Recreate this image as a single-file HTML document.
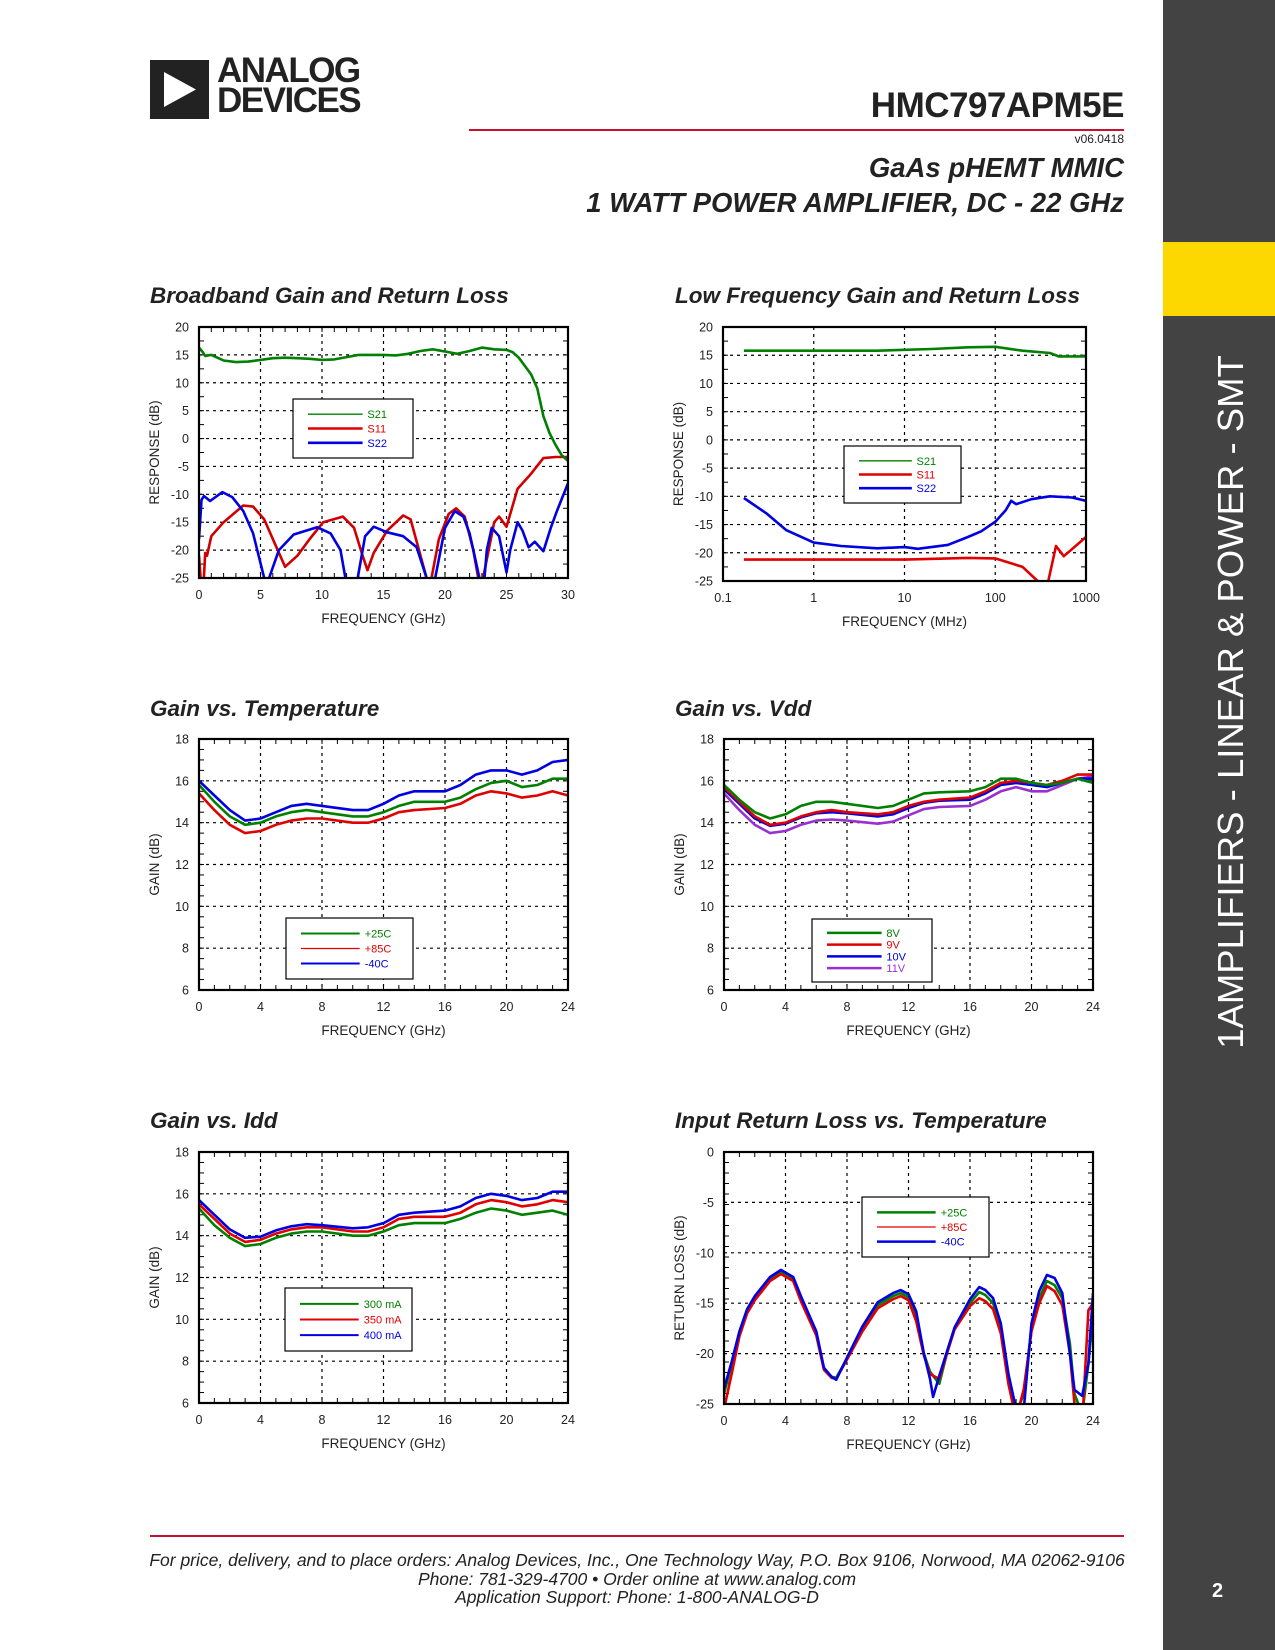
<!DOCTYPE html>
<html><head><meta charset="utf-8"><style>
body{margin:0;width:1275px;height:1650px;position:relative;background:#fff;font-family:"Liberation Sans",sans-serif;overflow:hidden}
.abs{position:absolute}
.ct{position:absolute;font-weight:bold;font-style:italic;font-size:22.5px;color:#222}
</style></head><body>
<div class="abs" style="left:150px;top:60px;width:232px;height:60px">
 <div style="position:absolute;left:0;top:0;width:59px;height:59px;background:#222"><svg width="59" height="59"><polygon points="14,12 14,47 46,29.5" fill="#fff"/></svg></div>
 <div style="position:absolute;left:67px;top:-4px;font-size:35px;font-weight:bold;line-height:30px;letter-spacing:-1.5px;color:#222">ANALOG<br>DEVICES</div>
</div>
<div class="abs" style="right:151px;top:86px;font-size:35px;font-weight:bold;color:#222;letter-spacing:-0.5px">HMC797APM5E</div>
<div class="abs" style="left:469px;top:129px;width:655px;height:2px;background:#c8102e"></div>
<div class="abs" style="right:151px;top:132px;font-size:12px;color:#222">v06.0418</div>
<div class="abs" style="right:151px;top:152px;font-size:27.5px;font-weight:bold;font-style:italic;color:#222">GaAs pHEMT MMIC</div>
<div class="abs" style="right:151px;top:187px;font-size:27.5px;font-weight:bold;font-style:italic;color:#222">1 WATT POWER AMPLIFIER, DC - 22 GHz</div>
<div class="abs" style="left:1163px;top:0;width:112px;height:1650px;background:#434343"></div>
<div class="abs" style="left:1163px;top:242px;width:112px;height:74px;background:#fdd800"></div>
<div class="abs" style="left:1231px;top:702px;width:0;height:0"><div style="position:absolute;transform:translate(-50%,-50%) rotate(-90deg);white-space:nowrap;color:#fff;font-size:36.5px;left:0;top:0">1AMPLIFIERS - LINEAR &amp; POWER - SMT</div></div>
<div class="abs" style="left:1212px;top:1580px;color:#fff;font-size:20px;font-weight:bold">2</div>

<div class="ct" style="left:150px;top:283px">Broadband Gain and Return Loss</div>
<div class="ct" style="left:675px;top:283px">Low Frequency Gain and Return Loss</div>
<div class="ct" style="left:150px;top:696px">Gain vs. Temperature</div>
<div class="ct" style="left:675px;top:696px">Gain vs. Vdd</div>
<div class="ct" style="left:150px;top:1108px">Gain vs. Idd</div>
<div class="ct" style="left:675px;top:1108px">Input Return Loss vs. Temperature</div>

<svg id="charts" width="1275" height="1650" style="position:absolute;left:0;top:0" font-family="Liberation Sans, sans-serif"></svg>

<div class="abs" style="left:150px;top:1535px;width:974px;height:1.5px;background:#c8102e"></div>
<div class="abs" style="left:130px;width:1014px;top:1551px;text-align:center;font-style:italic;font-size:17.5px;line-height:18.5px;color:#222">For price, delivery, and to place orders: Analog Devices, Inc., One Technology Way, P.O. Box 9106, Norwood, MA 02062-9106<br>Phone: 781-329-4700 • Order online at www.analog.com<br>Application Support: Phone: 1-800-ANALOG-D</div>

<script>
// ---- Chart 1: Broadband (GHz) ----
const c1S21x=[0,0.3,0.5,1,1.5,2,3,4,5,6,7,8,9,10,11,12,13,14,15,16,17,18,19,20,21,22,23,24,25,25.5,26,27,27.5,28,28.5,29,29.5,30];
const c1S21y=[16.3,15.5,14.8,15,14.5,14,13.7,13.8,14.1,14.4,14.5,14.4,14.3,14.1,14.2,14.6,15,15,15,14.9,15.2,15.7,16,15.6,15.2,15.7,16.3,16,15.9,15.5,14.5,11.5,9,4,1,-1.2,-3,-4];
const c1S11x=[0,0.2,0.35,0.5,0.65,1,2,3.6,4.4,5.3,6.1,7,8,9,10.1,11.7,12.6,13.3,13.7,14.2,15.3,16.6,17.2,18.5,18.7,18.9,19.5,20.3,20.9,21.6,22.3,22.7,22.9,23.1,24,24.4,25,25.9,27,28,29,30];
const c1S11y=[-21,-27,-27,-20.5,-21,-17.5,-15,-12,-12.2,-14.5,-18.5,-23,-21,-18,-15,-14,-16,-21,-23.6,-20.5,-16.5,-13.8,-14.5,-25,-28,-25,-18,-13.5,-12.5,-14,-20,-25,-28,-25,-15,-14,-15.8,-9,-6.3,-3.5,-3.3,-3.3];
const c1S22x=[0,0.2,0.4,0.9,1.9,2.7,3.6,4.4,5.3,5.5,5.7,6.5,7.7,9.6,10.7,11.5,11.9,12.4,12.9,13.5,14.2,15.3,16.6,17.7,18.5,18.8,19.2,20,20.8,21.5,22,22.5,22.8,23.1,23.4,23.8,24.4,25,25.3,25.9,26.3,26.8,27.3,28,28.6,29.1,30];
const c1S22y=[-18,-11,-10.3,-11.2,-9.6,-10.5,-13,-17,-25,-28,-25,-20,-17.2,-15.9,-17,-20,-25,-28,-25,-17.5,-15.8,-16.8,-17.5,-19.5,-25,-28,-25,-16,-13,-14,-17,-22,-25,-28,-20,-16,-17.5,-24,-20,-15,-16.5,-19.5,-18.5,-20.2,-16,-13,-8];
const c1XTicks=[0,5,10,15,20,25,30];
const c1YTicks=[20,15,10,5,0,-5,-10,-15,-20,-25];
// ---- Chart 2: Low frequency (MHz, log) ----
const c2S21x=[0.17,1,5,20,50,100,200,400,500,1000];
const c2S21y=[15.8,15.8,15.8,16.1,16.4,16.5,15.8,15.4,14.8,14.8];
const c2S11x=[0.17,10,50,100,200,293,330,384,467,570,1000];
const c2S11y=[-21.2,-21.2,-20.9,-21,-22.5,-25,-27,-25,-18.8,-20.6,-17.2];
const c2S22x=[0.17,0.3,0.5,1,2,5,10,14,30,50,70,100,130,150,170,250,400,700,1000];
const c2S22y=[-10.3,-13,-16,-18.2,-18.8,-19.2,-19,-19.3,-18.6,-17.2,-16.2,-14.5,-12.5,-10.8,-11.4,-10.5,-10,-10.2,-10.8];
const c2XTicks=[0.1,1,10,100,1000];
const c2XLabels=["0.1","1","10","100","1000"];
// ---- Chart 3: Gain vs Temperature ----
const gx=[0,1,2,3,4,5,6,7,8,10,11,12,13,14,16,17,18,19,20,21,22,23,24];
const c3T25=[15.8,15,14.3,13.9,14,14.3,14.5,14.6,14.5,14.3,14.3,14.5,14.8,15,15,15.2,15.6,15.9,16,15.7,15.8,16.1,16.1];
const c3T85=[15.4,14.6,13.9,13.5,13.6,13.9,14.1,14.2,14.2,14,14,14.2,14.5,14.6,14.7,14.9,15.3,15.5,15.4,15.2,15.3,15.5,15.3];
const c3Tm40=[16,15.3,14.6,14.1,14.2,14.5,14.8,14.9,14.8,14.6,14.6,14.9,15.3,15.5,15.5,15.8,16.3,16.5,16.5,16.3,16.5,16.9,17];
const gXTicks=[0,4,8,12,16,20,24];
const gYTicks=[18,16,14,12,10,8,6];
// ---- Chart 4: Gain vs Vdd ----
const c4V8=[15.8,15.1,14.5,14.2,14.4,14.8,15,15,14.9,14.7,14.8,15.1,15.4,15.45,15.5,15.7,16.1,16.1,15.9,15.8,15.9,16.1,15.9];
const c4V9=[15.7,15,14.3,13.9,14,14.3,14.5,14.6,14.5,14.4,14.5,14.8,15,15.1,15.2,15.5,15.9,16,15.9,15.8,16,16.3,16.3];
const c4V10=[15.6,14.9,14.2,13.85,13.95,14.25,14.45,14.5,14.45,14.3,14.4,14.7,14.95,15.05,15.1,15.4,15.8,15.9,15.8,15.7,15.9,16.1,16.1];
const c4V11=[15.4,14.6,13.9,13.5,13.6,13.9,14.1,14.15,14.1,13.95,14.05,14.35,14.65,14.75,14.8,15.1,15.5,15.7,15.5,15.5,15.8,16.1,16.2];
// ---- Chart 5: Gain vs Idd ----
const c5I300=[15.3,14.5,13.9,13.5,13.6,13.9,14.1,14.2,14.2,14,14,14.2,14.5,14.6,14.6,14.8,15.1,15.3,15.2,15,15.1,15.2,15];
const c5I350=[15.5,14.8,14.1,13.7,13.8,14.1,14.3,14.4,14.4,14.2,14.2,14.4,14.8,14.9,14.9,15.1,15.5,15.7,15.6,15.4,15.5,15.7,15.6];
const c5I400=[15.7,15,14.3,13.9,13.95,14.25,14.45,14.55,14.5,14.35,14.4,14.6,15,15.1,15.2,15.4,15.8,16,15.9,15.7,15.8,16.1,16.1];
// ---- Chart 6: Input return loss vs Temp ----
const rx=[0,0.5,1,1.5,2,3,3.7,4.5,5,6,6.5,7,7.3,8,9,10,11,11.5,12,12.5,13,13.4,13.6,14,14.5,15,16,16.6,17,17.5,18,18.5,19,19.5,20,20.5,21,21.5,22,22.5,22.8,23.3,23.7,24];
const c6T25=[-24,-21,-18,-15.8,-14.5,-12.6,-11.9,-12.6,-14.5,-18,-21.5,-22.3,-22.4,-20.5,-17.5,-15.2,-14.3,-14,-14.4,-16.5,-20,-21.8,-22.2,-23,-20,-17.5,-15,-13.9,-14.2,-15,-17.5,-22.5,-26,-24,-17.5,-14.5,-12.8,-13.2,-14.5,-19,-24,-26,-21,-16];
const c6T85=[-25.5,-22,-18.3,-16,-14.7,-12.8,-12.1,-12.8,-14.8,-18.2,-21.6,-22.4,-22.5,-20.6,-17.8,-15.5,-14.6,-14.3,-14.7,-16.8,-20.2,-22,-22.2,-22.5,-20,-17.6,-15.3,-14.5,-14.8,-15.6,-18,-23,-26.5,-23.5,-17.8,-15,-13.3,-13.8,-15.2,-20,-25,-27,-15.7,-15];
const c6Tm40=[-23.5,-20.8,-17.8,-15.6,-14.3,-12.4,-11.7,-12.4,-14.3,-17.8,-21.4,-22.3,-22.6,-20.4,-17.3,-14.9,-14,-13.7,-14.1,-15.8,-20,-22.5,-24.3,-22.2,-19.8,-17.4,-14.6,-13.4,-13.7,-14.5,-17,-22,-25.5,-25.5,-17,-13.8,-12.2,-12.5,-14,-20,-23.6,-24.2,-21,-14];
const rYTicks=[0,-5,-10,-15,-20,-25];

const NS="http://www.w3.org/2000/svg";
const root=document.getElementById('charts');
function mk(tag,attrs,parent){const e=document.createElementNS(NS,tag);for(const k in attrs)e.setAttribute(k,attrs[k]);(parent||root).appendChild(e);return e;}
let clipN=0;
function makeAxes(b){
  const sx=b.log?(v=>b.x0+(Math.log10(v)-Math.log10(b.xmin))/(Math.log10(b.xmax)-Math.log10(b.xmin))*(b.x1-b.x0)):(v=>b.x0+(v-b.xmin)/(b.xmax-b.xmin)*(b.x1-b.x0));
  const sy=v=>b.y1-(v-b.ymin)/(b.ymax-b.ymin)*(b.y1-b.y0);
  return {sx,sy};
}
function drawFrame(g,b,ax,xt,xl,yt,xtitle,ytitle,minorX,minorY){
  yt.forEach(v=>{const y=ax.sy(v);
    if(v!==b.ymin&&v!==b.ymax){const l=mk('line',{x1:b.x0,x2:b.x1,y1:y,y2:y,stroke:'#000','stroke-width':1.2,'stroke-dasharray':'3,4'},g);}
    const t=mk('text',{x:b.x0-10,y:y+4.5,'text-anchor':'end','font-size':12.5,fill:'#222'},g);t.textContent=v;
    });
  xt.forEach((v,i)=>{const x=ax.sx(v);
    if(i>0&&i<xt.length-1){const l=mk('line',{x1:x,x2:x,y1:b.y0,y2:b.y1,stroke:'#000','stroke-width':1.2,'stroke-dasharray':'3,4'},g);}
    const t=mk('text',{x:x,y:b.y1+21,'text-anchor':'middle','font-size':12.5,fill:'#222'},g);t.textContent=xl?xl[i]:v;
    });
  minorX.forEach(x=>{mk('line',{x1:x,x2:x,y1:b.y1,y2:b.y1-5,stroke:'#000','stroke-width':1},g);mk('line',{x1:x,x2:x,y1:b.y0,y2:b.y0+5,stroke:'#000','stroke-width':1},g);});
  minorY.forEach(y=>{mk('line',{x1:b.x0,x2:b.x0+5,y1:y,y2:y,stroke:'#000','stroke-width':1},g);mk('line',{x1:b.x1,x2:b.x1-5,y1:y,y2:y,stroke:'#000','stroke-width':1},g);});
  const xt2=mk('text',{x:(b.x0+b.x1)/2,y:b.y1+45,'text-anchor':'middle','font-size':13.5,fill:'#222'},g);xt2.textContent=xtitle;
  
  const cy=(b.y0+b.y1)/2, cx=b.x0-40;
  const yt2=mk('text',{x:cx,y:cy,'text-anchor':'middle','font-size':13.5,fill:'#222',transform:`rotate(-90 ${cx} ${cy})`},g);yt2.textContent=ytitle;
  
}
function drawSeries(g,b,ax,xs,ys,color,name,w){
  const id='clip'+(clipN++);
  const cp=mk('clipPath',{id:id},g);mk('rect',{x:b.x0,y:b.y0,width:b.x1-b.x0,height:b.y1-b.y0},cp);
  const pts=xs.map((x,i)=>ax.sx(x).toFixed(1)+','+ax.sy(ys[i]).toFixed(1)).join(' ');
  const p=mk('polyline',{points:pts,fill:'none',stroke:color,'stroke-width':w||2.6,'stroke-linejoin':'round','clip-path':`url(#${id})`},g);
  
  
}
function drawBorder(g,b){const r=mk('rect',{x:b.x0,y:b.y0,width:b.x1-b.x0,height:b.y1-b.y0,fill:'none',stroke:'#000','stroke-width':2.2},g);}
function drawLegend(g,lx,ly,lw,lh,items,fs){
  const r=mk('rect',{x:lx,y:ly,width:lw,height:lh,fill:'#fff',stroke:'#000','stroke-width':1.2},g);
  
  const n=items.length, step=(lh-16)/(n), start=ly+8+step/2;
  items.forEach((it,i)=>{const y=start+i*step;
    mk('line',{x1:lx+15,x2:lx+lw*0.58,y1:y,y2:y,stroke:it[1],'stroke-width':it[2]},g);
    const t=mk('text',{x:lx+lw*0.62,y:y+4,'font-size':fs||11,fill:it[1]},g);t.textContent=it[0];
    });
}
function range(a,bb,s){const r=[];for(let v=a;v<=bb+1e-9;v+=s)r.push(+v.toFixed(3));return r;}
const G='#008000',R='#e00000',B='#0000e0',P='#9a30d0';

// Chart 1
{const b={x0:199,x1:568,y0:327,y1:578,xmin:0,xmax:30,ymin:-25,ymax:20};const ax=makeAxes(b);
 const g=mk('g',{});
 drawFrame(g,b,ax,c1XTicks,null,c1YTicks,'FREQUENCY (GHz)','RESPONSE (dB)',range(0,30,1).map(ax.sx),range(-25,20,2.5).map(ax.sy));
 drawSeries(g,b,ax,c1S11x,c1S11y,'#d00000','s11-line');
 drawSeries(g,b,ax,c1S22x,c1S22y,B,'s22-line');
 drawSeries(g,b,ax,c1S21x,c1S21y,G,'s21-line');
 drawBorder(g,b);
 drawLegend(g,293,399,120,59,[['S21',G,1.3],['S11',R,2.6],['S22',B,2.6]]);}
// Chart 2
{const b={x0:723,x1:1086,y0:327,y1:581,xmin:0.1,xmax:1000,ymin:-25,ymax:20,log:true};const ax=makeAxes(b);
 const g=mk('g',{});
 drawFrame(g,b,ax,c2XTicks,c2XLabels,c1YTicks,'FREQUENCY (MHz)','RESPONSE (dB)',[],range(-25,20,2.5).map(ax.sy));
 drawSeries(g,b,ax,c2S11x,c2S11y,R,'s11-line');
 drawSeries(g,b,ax,c2S22x,c2S22y,B,'s22-line');
 drawSeries(g,b,ax,c2S21x,c2S21y,G,'s21-line');
 drawBorder(g,b);
 drawLegend(g,844,446,117,57,[['S21',G,1.3],['S11',R,2.6],['S22',B,2.6]]);}
function gainChart(name,b,series,leg,ytitle,yt,lfs){const ax=makeAxes(b);
 const g=mk('g',{});
 drawFrame(g,b,ax,gXTicks,null,yt,'FREQUENCY (GHz)',ytitle,range(0,24,1).map(ax.sx),range(b.ymin,b.ymax,(b.ymax-b.ymin)/24).map(ax.sy));
 series.forEach(s=>drawSeries(g,b,ax,s[0],s[1],s[2],s[3],s[4]));
 drawBorder(g,b);drawLegend(g,leg[0],leg[1],leg[2],leg[3],leg[4],lfs);}
gainChart('chart3-gain-vs-temperature',{x0:199,x1:568,y0:739,y1:990,xmin:0,xmax:24,ymin:6,ymax:18},
 [[gx,c3T85,R,'plus85c-line'],[gx,c3T25,G,'plus25c-line'],[gx,c3Tm40,B,'minus40c-line']],
 [286,918,127,61,[['+25C',G,2],['+85C',R,1.3],['-40C',B,2]]],'GAIN (dB)',gYTicks);
gainChart('chart4-gain-vs-vdd',{x0:724,x1:1093,y0:739,y1:990,xmin:0,xmax:24,ymin:6,ymax:18},
 [[gx,c4V11,P,'11v-line'],[gx,c4V10,B,'10v-line'],[gx,c4V9,R,'9v-line'],[gx,c4V8,G,'8v-line']],
 [812,919,120,63,[['8V',G,2.5],['9V',R,2.5],['10V',B,2.5],['11V',P,2.5]]],'GAIN (dB)',gYTicks,11);
gainChart('chart5-gain-vs-idd',{x0:199,x1:568,y0:1152,y1:1403,xmin:0,xmax:24,ymin:6,ymax:18},
 [[gx,c5I300,G,'300ma-line'],[gx,c5I350,R,'350ma-line'],[gx,c5I400,B,'400ma-line']],
 [285,1288,127,63,[['300 mA',G,2],['350 mA',R,2],['400 mA',B,2]]],'GAIN (dB)',gYTicks);
gainChart('chart6-input-return-loss',{x0:724,x1:1093,y0:1152,y1:1404,xmin:0,xmax:24,ymin:-25,ymax:0},
 [[rx,c6T25,G,'plus25c-line'],[rx,c6T85,R,'plus85c-line'],[rx,c6Tm40,B,'minus40c-line']],
 [862,1197,127,60,[['+25C',G,2.5],['+85C',R,1.2],['-40C',B,2.5]]],'RETURN LOSS (dB)',rYTicks);
</script>
</body></html>
